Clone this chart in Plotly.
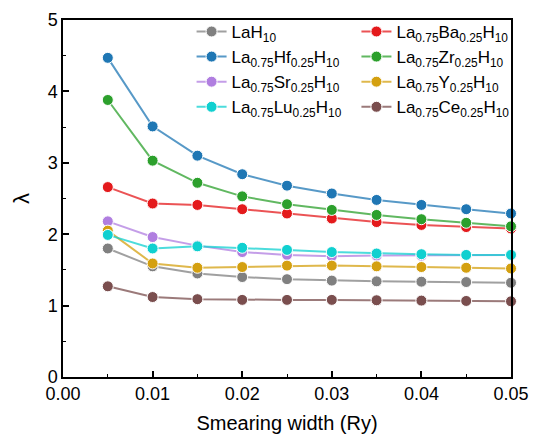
import plotly.graph_objects as go

smearing = [0.005, 0.010, 0.015, 0.020, 0.025, 0.030, 0.035, 0.040, 0.045, 0.050]

lah10 = [1.80, 1.55, 1.45, 1.40, 1.37, 1.35, 1.34, 1.335, 1.33, 1.32]
ba = [2.66, 2.43, 2.41, 2.35, 2.29, 2.22, 2.17, 2.13, 2.10, 2.08]
hf = [4.47, 3.51, 3.10, 2.84, 2.68, 2.57, 2.48, 2.41, 2.35, 2.29]
zr = [3.88, 3.03, 2.72, 2.53, 2.42, 2.34, 2.27, 2.21, 2.16, 2.11]
sr = [2.18, 1.96, 1.84, 1.75, 1.71, 1.69, 1.70, 1.70, 1.71, 1.71]
y_ = [2.05, 1.59, 1.53, 1.54, 1.56, 1.56, 1.55, 1.54, 1.53, 1.52]
lu = [1.99, 1.80, 1.83, 1.81, 1.78, 1.75, 1.73, 1.72, 1.71, 1.71]
ce = [1.27, 1.12, 1.09, 1.08, 1.08, 1.08, 1.075, 1.07, 1.065, 1.06]

names = ["LaH<sub>10</sub>",
         "La<sub>0.75</sub>Ba<sub>0.25</sub>H<sub>10</sub>",
         "La<sub>0.75</sub>Hf<sub>0.25</sub>H<sub>10</sub>",
         "La<sub>0.75</sub>Zr<sub>0.25</sub>H<sub>10</sub>",
         "La<sub>0.75</sub>Sr<sub>0.25</sub>H<sub>10</sub>",
         "La<sub>0.75</sub>Y<sub>0.25</sub>H<sub>10</sub>",
         "La<sub>0.75</sub>Lu<sub>0.25</sub>H<sub>10</sub>",
         "La<sub>0.75</sub>Ce<sub>0.25</sub>H<sub>10</sub>"]
series = [lah10, ba, hf, zr, sr, y_, lu, ce]
colors = ["#808080", "#e41a1c", "#1f77b4", "#2ca02c", "#b07ee0", "#d4a010", "#10d0d0", "#7a4e4e"]
legends = ["legend", "legend2"] * 4

def rgba(hexc, a):
    h = hexc.lstrip("#")
    r, g, b = int(h[0:2], 16), int(h[2:4], 16), int(h[4:6], 16)
    return f"rgba({r},{g},{b},{a})"

fig = go.Figure()
for name, vals, col, lg in zip(names, series, colors, legends):
    fig.add_trace(go.Scatter(
        x=smearing, y=vals, name=name, mode="lines+markers",
        line=dict(color=rgba(col, 0.75), width=2),
        marker=dict(color=col, size=11, line=dict(color="white", width=1)),
        legend=lg, cliponaxis=False,
    ))

font = dict(family="Liberation Sans, Arial, sans-serif", size=18, color="black")

fig.update_layout(
    width=539, height=444,
    margin=dict(l=63, r=20, t=10, b=67),
    paper_bgcolor="white", plot_bgcolor="white",
    font=font,
    showlegend=True,
    legend=dict(x=0.287, y=1.017, xanchor="left", yanchor="top", bgcolor="rgba(0,0,0,0)",
                font=dict(size=17), tracegroupgap=0, itemwidth=30),
    legend2=dict(x=0.655, y=1.017, xanchor="left", yanchor="top", bgcolor="rgba(0,0,0,0)",
                 font=dict(size=17), tracegroupgap=0, itemwidth=30),
)
fig.update_xaxes(
    range=[0, 0.05], dtick=0.01, tickformat=".2f",
    showline=True, linecolor="black", linewidth=1.5, mirror=True,
    ticks="inside", ticklen=6, tickwidth=1.5, tickcolor="black",
    minor=dict(ticks="inside", ticklen=3, dtick=0.005, tickwidth=1.2, tickcolor="black"),
    showgrid=False, zeroline=False,
    title=dict(text="Smearing width (Ry)", font=dict(size=20), standoff=13),
    tickfont=dict(size=18),
)
fig.update_yaxes(
    range=[0, 5], dtick=1,
    showline=True, linecolor="black", linewidth=1.5, mirror=True,
    ticks="inside", ticklen=6, tickwidth=1.5, tickcolor="black",
    minor=dict(ticks="inside", ticklen=3, dtick=0.5, tickwidth=1.2, tickcolor="black"),
    showgrid=False, zeroline=False,
    title=dict(text="λ", font=dict(size=22), standoff=12),
    tickfont=dict(size=18),
)
fig.write_html("out.html")
